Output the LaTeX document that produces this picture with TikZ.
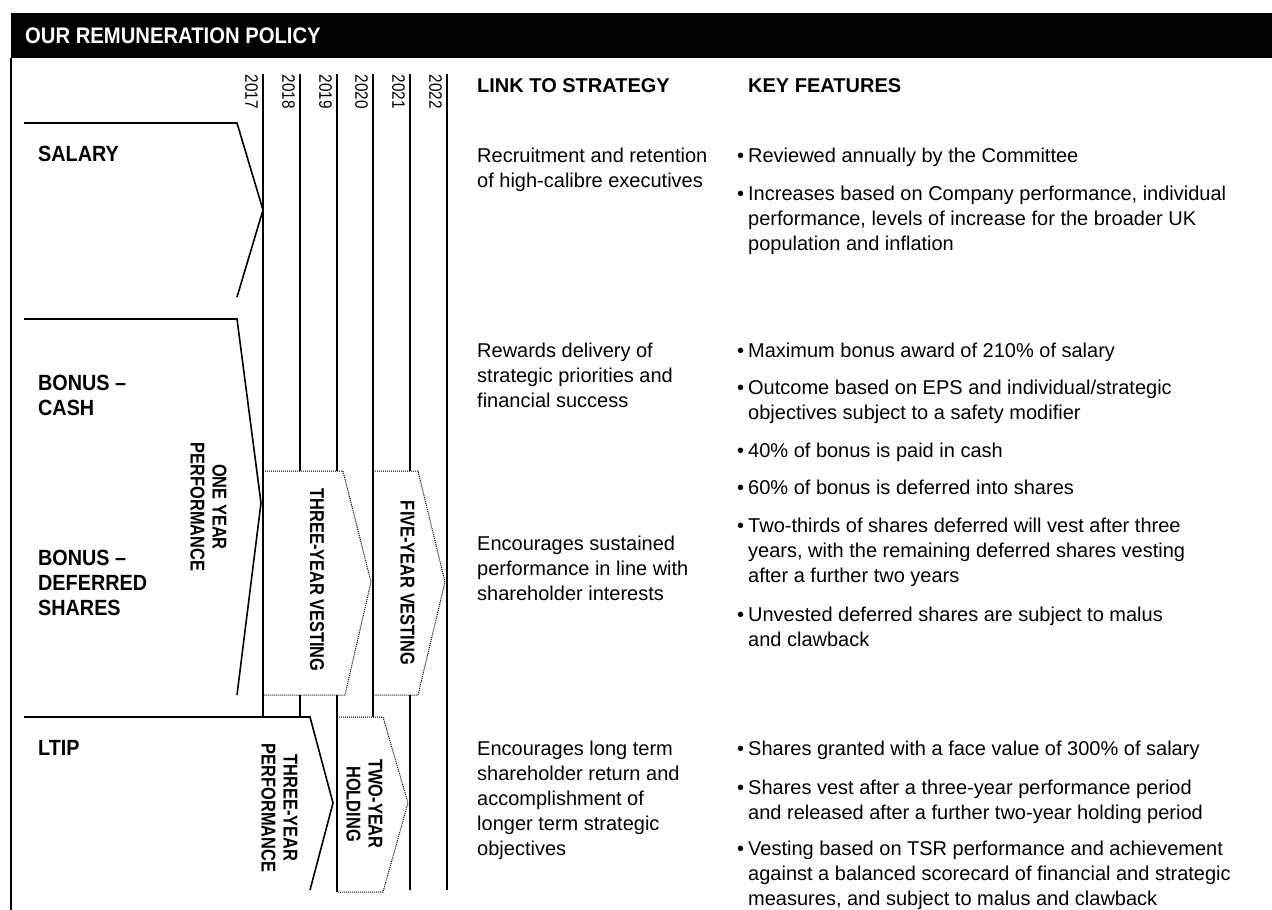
\documentclass[tikz,border=0pt]{standalone}
\usepackage{fontspec}
\setmainfont{Liberation Sans}
\newfontfamily\lblfont[FakeStretch=0.9]{Liberation Sans}
\newfontfamily\vlblfont[FakeStretch=0.82]{Liberation Sans}
\newfontfamily\yrfont[FakeStretch=0.85]{Liberation Sans}
\usepackage{tikz}
\usetikzlibrary{positioning}

\newcommand{\bul}{\makebox[11pt][l]{\textbullet}}
\newcommand{\ind}{\hspace*{11pt}}

\begin{document}
\begin{tikzpicture}[
  x=1pt, y=-1pt,
  rule/.style={line width=1.6pt},
  chevron/.style={line width=1.6pt, line join=miter},
  vestbox/.style={densely dotted, line width=1pt},
  title/.style={anchor=base west, inner sep=0pt, text=white, font=\lblfont\bfseries\fontsize{22.5}{26}\selectfont},
  colhead/.style={anchor=base west, inner sep=0pt, font=\bfseries\fontsize{20}{25}\selectfont},
  body/.style={anchor=base west, inner sep=0pt, align=left, font=\fontsize{20}{25}\selectfont},
  rowlabel/.style={anchor=base west, inner sep=0pt, align=left, font=\lblfont\bfseries\fontsize{22}{25}\selectfont},
  period/.style={rotate=-90, inner sep=0pt, align=center, font=\vlblfont\bfseries\fontsize{20}{22}\selectfont},
  year/.style={rotate=-90, inner sep=0pt, font=\yrfont\fontsize{18}{20}\selectfont}
]
\useasboundingbox (0,0) rectangle (1272,910);

% Header
\fill[black] (11,13) rectangle (1272,58);
\node[title] (ttl) at (25,43) {OUR REMUNERATION POLICY};
\draw[rule] (11,58) -- (11,910);

% Years
\foreach \yr/\xx in {2017/263, 2018/300, 2019/337, 2020/373, 2021/410, 2022/447}
  \node[year] (y\yr) at (\xx-11.5,92) {\yr};
\draw[rule] (263,74) -- (263,717);
\draw[rule] (300,74) -- (300,471) (300,695) -- (300,717);
\draw[rule] (337,74) -- (337,471) (337,695) -- (337,892);
\draw[rule] (373,74) -- (373,717);
\draw[rule] (410,74) -- (410,471) (410,695) -- (410,890);
\draw[rule] (447,74) -- (447,890);

% Elements
\draw[chevron] (24,123) -- (237,123) -- (263,210) -- (237,297);
\draw[chevron] (24,319) -- (237,319) -- (261,503) -- (237,695);
\draw[chevron] (24,717) -- (310,717) -- (333,803) -- (310,890);
\draw[vestbox] (263,471) -- (343,471) -- (371,582) -- (345,695) -- (263,695);
\draw[vestbox] (373,471) -- (418,471) -- (445,582) -- (418,695) -- (373,695);
\draw[vestbox] (337,717) -- (383,717) -- (408,803) -- (383,892) -- (337,892);

% (base = last line)
\node[rowlabel] (salary) at (38,161) {SALARY};
\node[rowlabel] (bcash) at (38,415) {BONUS \textendash\\CASH};
\node[rowlabel] (bdef) at (38,615) {BONUS \textendash\\DEFERRED\\SHARES};
\node[rowlabel] (ltip) at (38,755) {LTIP};

\node[period] (oneyr) at (208.5,507) {ONE YEAR\\PERFORMANCE};
\node[period] (threevest) at (317,580) {THREE-YEAR VESTING};
\node[period] (fivevest) at (407.5,583) {FIVE-YEAR VESTING};
\node[period] (threeperf) at (279.5,808) {THREE-YEAR\\PERFORMANCE};
\node[period] (twohold) at (364.5,804) {TWO-YEAR\\HOLDING};

% Columns
\node[colhead] (hlink) at (477,92) {LINK TO STRATEGY};
\node[colhead] (hkey) at (748,92) {KEY FEATURES};

\node[body] (lnk1) at (477,187) {Recruitment and retention\\of high-calibre executives};
\node[body] (lnk2) at (477,407) {Rewards delivery of\\strategic priorities and\\financial success};
\node[body] (lnk3) at (477,600) {Encourages sustained\\performance in line with\\shareholder interests};
\node[body] (lnk4) at (477,855) {Encourages long term\\shareholder return and\\accomplishment of\\longer term strategic\\objectives};

\node[body] (f1) at (737,162) {\bul Reviewed annually by the Committee};
\node[body] (f2) at (737,250) {\bul Increases based on Company performance, individual\\\ind performance, levels of increase for the broader UK\\\ind population and inflation};
\node[body] (f3) at (737,357) {\bul Maximum bonus award of 210\% of salary};
\node[body] (f4) at (737,419) {\bul Outcome based on EPS and individual/strategic\\\ind objectives subject to a safety modifier};
\node[body] (f5) at (737,457) {\bul 40\% of bonus is paid in cash};
\node[body] (f6) at (737,494) {\bul 60\% of bonus is deferred into shares};
\node[body] (f7) at (737,582) {\bul Two-thirds of shares deferred will vest after three\\\ind years, with the remaining deferred shares vesting\\\ind after a further two years};
\node[body] (f8) at (737,646) {\bul Unvested deferred shares are subject to malus\\\ind and clawback};
\node[body] (f9) at (737,755) {\bul Shares granted with a face value of 300\% of salary};
\node[body] (f10) at (737,819) {\bul Shares vest after a three-year performance period\\\ind and released after a further two-year holding period};
\node[body] (f11) at (737,905) {\bul Vesting based on TSR performance and achievement\\\ind against a balanced scorecard of financial and strategic\\\ind measures, and subject to malus and clawback};

\end{tikzpicture}
\end{document}
